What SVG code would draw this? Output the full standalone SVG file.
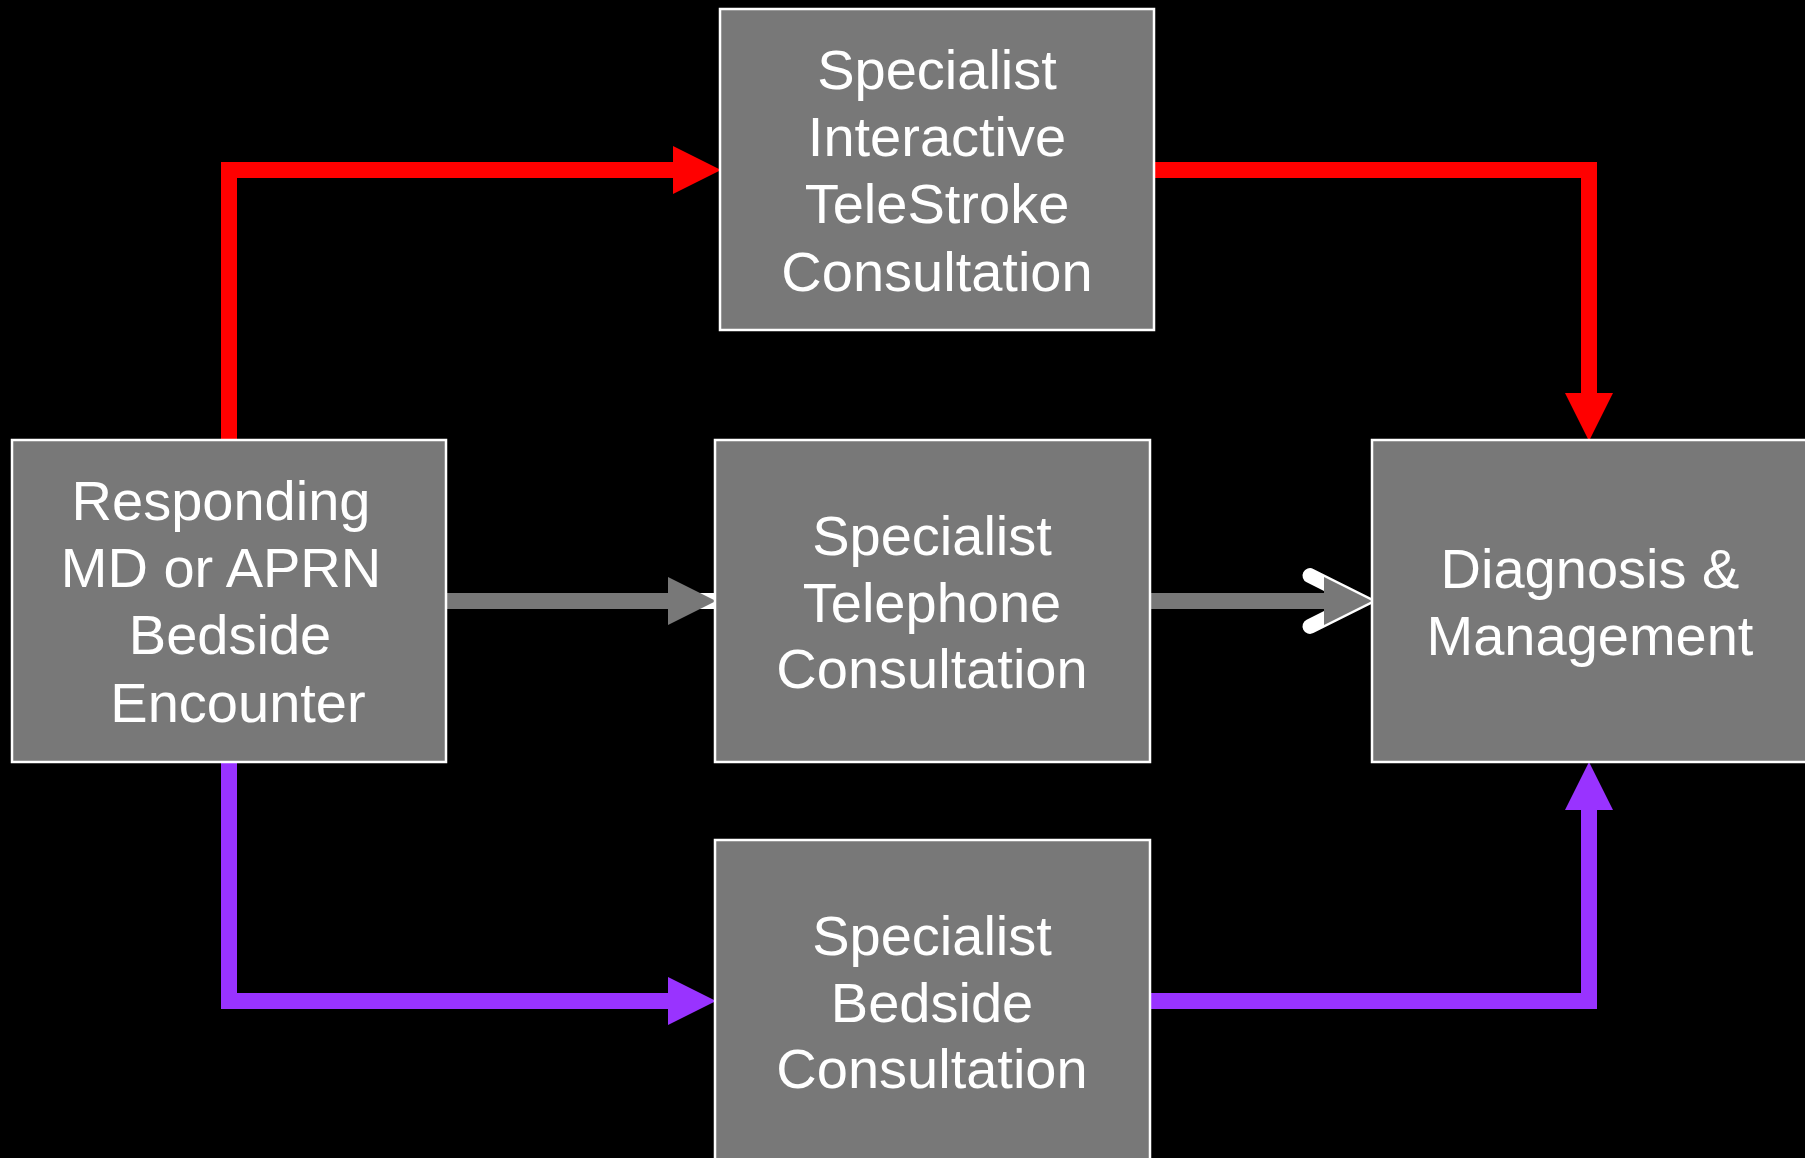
<svg xmlns="http://www.w3.org/2000/svg" width="1805" height="1158" viewBox="0 0 1805 1158">
<style>
.box{fill:#787878;stroke:#ffffff;stroke-width:2.5}
.lbl{font-family:"Liberation Sans",Arial,sans-serif;font-size:56px;fill:#ffffff;text-anchor:middle}
.red{fill:none;stroke:#ff0000;stroke-width:16}
.pur{fill:none;stroke:#9933ff;stroke-width:16}
.gry{fill:none;stroke:#787878;stroke-width:16}
</style>
<defs>
<marker id="ahRed" markerUnits="userSpaceOnUse" markerWidth="48" markerHeight="48" refX="0" refY="24" orient="auto" overflow="visible"><path d="M0,0 L48,24 L0,48 Z" fill="#ff0000"/></marker>
<marker id="ahPur" markerUnits="userSpaceOnUse" markerWidth="48" markerHeight="48" refX="0" refY="24" orient="auto" overflow="visible"><path d="M0,0 L48,24 L0,48 Z" fill="#9933ff"/></marker>
<marker id="ahGry" markerUnits="userSpaceOnUse" markerWidth="48" markerHeight="48" refX="0" refY="24" orient="auto" overflow="visible"><path d="M0,0 L48,24 L0,48 Z" fill="#787878"/></marker>
</defs>
<rect x="0" y="0" width="1805" height="1158" fill="#000000"/>
<g id="connectors">
<path class="red" d="M229,440 V170 H673" marker-end="url(#ahRed)"/>
<path class="red" d="M1154,170 H1589 V393" marker-end="url(#ahRed)"/>
<rect x="698" y="593" width="18" height="16" fill="#ffffff"/>
<path class="gry" d="M446,601 H668" marker-end="url(#ahGry)"/>
<path d="M1310,575.6 L1360.7,601 L1310,626.4" fill="none" stroke="#ffffff" stroke-width="15" stroke-linecap="round" stroke-linejoin="miter" stroke-miterlimit="10"/>
<path class="gry" d="M1150,601 H1324" marker-end="url(#ahGry)"/>
<path class="pur" d="M229,762 V1001 H668" marker-end="url(#ahPur)"/>
<path class="pur" d="M1150,1001 H1589 V810" marker-end="url(#ahPur)"/>
</g>
<g id="node-responding">
<rect class="box" x="12" y="440" width="434" height="322"/>
<text class="lbl"><tspan x="221" y="520">Responding</tspan><tspan x="221" y="587">MD or APRN</tspan><tspan x="230" y="654">Bedside</tspan><tspan x="238" y="722">Encounter</tspan></text>
</g>
<g id="node-telestroke">
<rect class="box" x="720" y="9" width="434" height="321"/>
<text class="lbl"><tspan x="937" y="89">Specialist</tspan><tspan x="937" y="156">Interactive</tspan><tspan x="937" y="223">TeleStroke</tspan><tspan x="937" y="291">Consultation</tspan></text>
</g>
<g id="node-telephone">
<rect class="box" x="715" y="440" width="435" height="322"/>
<text class="lbl"><tspan x="932" y="555">Specialist</tspan><tspan x="932" y="622">Telephone</tspan><tspan x="932" y="688">Consultation</tspan></text>
</g>
<g id="node-bedside">
<rect class="box" x="715" y="840" width="435" height="340"/>
<text class="lbl"><tspan x="932" y="955">Specialist</tspan><tspan x="932" y="1022">Bedside</tspan><tspan x="932" y="1088">Consultation</tspan></text>
</g>
<g id="node-diagnosis">
<rect class="box" x="1372" y="440" width="436" height="322"/>
<text class="lbl"><tspan x="1590" y="588">Diagnosis &amp;</tspan><tspan x="1590" y="655">Management</tspan></text>
</g>
</svg>
